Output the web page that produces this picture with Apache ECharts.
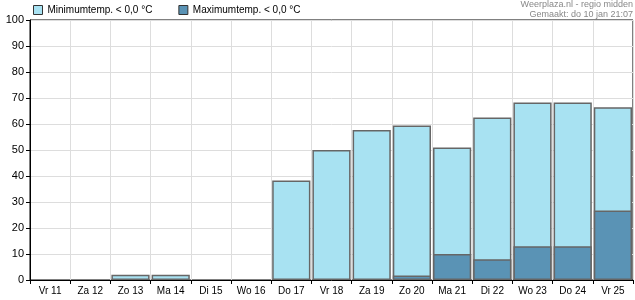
<!DOCTYPE html>
<html><head><meta charset="utf-8">
<script src="https://cdn.jsdelivr.net/npm/echarts@6/dist/echarts.min.js"></script>
<style>html,body{margin:0;padding:0;background:#fff}#c{width:635px;height:300px}</style>
</head><body><div id="c"></div>
<script>
const categories = ['Vr 11','Za 12','Zo 13','Ma 14','Di 15','Wo 16','Do 17','Vr 18','Za 19','Zo 20','Ma 21','Di 22','Wo 23','Do 24','Vr 25'];
const minTempBelow0 = [0,0,2,2,0,0,38.3,50,57.7,59.4,51,62.5,68.3,68.3,66.4];
const maxTempBelow0 = [0,0,0,0,0,0,0,0,0,1.7,10,8,13,13,26.7];
const yTicks = [0,10,20,30,40,50,60,70,80,90,100];
const seriesNames = ['Minimumtemp. < 0,0 °C','Maximumtemp. < 0,0 °C'];

const hideZero = arr => arr.map(v => v === 0 ? '-' : v);
const chart = echarts.init(document.getElementById('c'), null, {renderer:'canvas'});
const font = 'Arial, "Liberation Sans", sans-serif';
chart.setOption({
  animation:false,
  textStyle:{fontFamily:font},
  grid:{left:30,right:2,top:20,bottom:20,show:true,borderColor:'#000',borderWidth:1,backgroundColor:'transparent'},
  legend:{left:33,top:3,itemWidth:9,itemHeight:9,itemGap:26,icon:'rect',padding:[2,5,2,0],
    textStyle:{fontFamily:font,fontSize:10,color:'#000',padding:[0,0,0,0]},
    data:seriesNames.map(n=>({name:n,itemStyle:{borderColor:'#333',borderWidth:1}}))},
  graphic:[
    {type:'text',right:2,top:0,style:{text:'Weerplaza.nl - regio midden',font:'9px '+font,fill:'#888',textAlign:'right'}},
    {type:'text',right:2,top:10,style:{text:'Gemaakt: do 10 jan 21:07',font:'9px '+font,fill:'#888',textAlign:'right'}}
  ],
  xAxis:{type:'category',data:categories,boundaryGap:true,
    axisLine:{lineStyle:{color:'#000',width:1}},
    axisTick:{show:true,length:4,interval:0,lineStyle:{color:'#000'}},
    axisLabel:{color:'#000',fontSize:10,fontFamily:font,margin:6,interval:0},
    splitLine:{show:true,interval:0,lineStyle:{color:'#ddd'}}},
  yAxis:{type:'value',min:0,max:100,interval:10,
    axisLine:{show:true,lineStyle:{color:'#000',width:1}},
    axisTick:{show:true,length:4,lineStyle:{color:'#000'}},
    axisLabel:{color:'#000',fontSize:11,fontFamily:font,margin:6,
      formatter:v=>yTicks.includes(v)?String(v):''},
    splitLine:{show:true,lineStyle:{color:'#ddd'}}},
  series:[
    {name:seriesNames[0],type:'bar',data:hideZero(minTempBelow0),barWidth:'95%',barGap:'-100%',
      itemStyle:{color:'#a8e2f2',borderColor:'#666',borderWidth:1.5}},
    {name:seriesNames[1],type:'bar',data:hideZero(maxTempBelow0),barWidth:'95%',barGap:'-100%',
      itemStyle:{color:'#5a93b5',borderColor:'#666',borderWidth:1.5}}
  ]
});
</script></body></html>
